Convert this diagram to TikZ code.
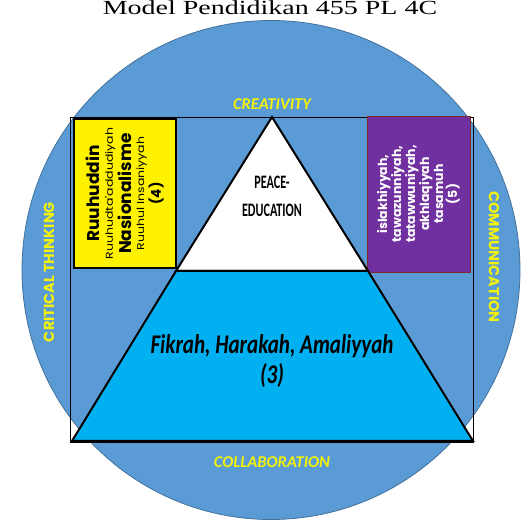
\documentclass[tikz,border=0pt]{standalone}
\usepackage{fontspec}
\setmainfont{Liberation Serif}
\newfontfamily\titlefont[FakeStretch=1.4]{Liberation Serif}
\newfontfamily\labelfont{Carlito}
\newfontfamily\narrowfont[FakeStretch=0.78]{Carlito}
\newfontfamily\tallfont[FakeStretch=0.64]{Carlito}
\newfontfamily\roundfont{Poppins}
\newfontfamily\widefont[FakeStretch=1.25]{Poppins}
\usetikzlibrary{positioning}
\definecolor{ringblue}{HTML}{5B9BD5}
\definecolor{ringedge}{HTML}{41719C}
\definecolor{basecyan}{HTML}{00B0F0}
\definecolor{boxpurple}{HTML}{7030A0}
\definecolor{boxedge}{HTML}{7F2A2A}
\definecolor{skillyellow}{HTML}{F2F20A}
\tikzstyle{ring} = [ellipse, draw=ringedge, line width=0.8pt, fill=ringblue, minimum width=498pt, minimum height=499pt, inner sep=0pt]
\tikzstyle{frame} = [draw=black, line width=0.8pt]
\tikzstyle{level} = [draw=black, line width=2pt, line join=miter]
\tikzstyle{valuebox} = [rectangle, rotate=90, align=center, inner sep=0pt, text centered]
\tikzstyle{skill} = [text=skillyellow, font=\labelfont\bfseries\itshape\fontsize{16.5}{18}\selectfont]
\tikzstyle{skillside} = [text=skillyellow, font=\roundfont\bfseries\fontsize{14.5}{16}\selectfont]
\usetikzlibrary{shapes.geometric}

\begin{document}
\begin{tikzpicture}[x=1pt, y=1pt]
\useasboundingbox (0,0) rectangle (523,520);

% title above the ring
\node (title) [anchor=base, font=\titlefont\fontsize{20}{24}\selectfont] at (270,505) {Model Pendidikan 455 PL 4C};

\node (circ) [ring] at (271,250) {};
\draw [frame] (70,78) rectangle (473,403);

\node (ruh) [valuebox, draw=black, line width=1.2pt, fill=yellow, minimum width=149pt, minimum height=102pt] at (125,326.5)
  {\roundfont\bfseries\fontsize{17}{17}\selectfont Ruuhuddin\\[1pt]
   \widefont\fontsize{10}{11}\selectfont Ruuhudta'addudiyah\\[1pt]
   \roundfont\bfseries\fontsize{17}{17}\selectfont Nasionalisme\\[1pt]
   \widefont\fontsize{10}{11}\selectfont Ruuhul Insaniyyah\\[1pt]
   \roundfont\bfseries\fontsize{13.5}{14}\selectfont (4)};
\node (akh) [valuebox, draw=boxedge, line width=0.8pt, fill=boxpurple, text=white, minimum width=156pt, minimum height=103pt,
  font=\roundfont\bfseries\fontsize{12.5}{14}\selectfont] at (418.5,326)
  {islakhiyyah,\\ tawazunniyah,\\ tatawwuniyah,\\ akhlaqiyah\\ tasamuh\\ (5)};

% peace triangle
\coordinate (apex) at (272,403);
\coordinate (tl) at (176,249);
\coordinate (tr) at (368,249);
\coordinate (bl) at (72,79);
\coordinate (br) at (473,79);
\draw [level, fill=white] (apex) -- (tr) -- (tl) -- cycle;
\draw [level, fill=basecyan] (tl) -- (tr) -- (br) -- (bl) -- cycle;

\node (peace) [align=center, font=\tallfont\bfseries\fontsize{19}{28}\selectfont] at (272,324) {PEACE-\\EDUCATION};
\node (fikrah) [align=center, font=\narrowfont\bfseries\itshape\fontsize{27}{30}\selectfont] at (272,159) {Fikrah, Harakah, Amaliyyah\\(3)};

\node (creat) [skill] at (272,416) {CREATIVITY};
\node (collab) [skill] at (272,58) {COLLABORATION};
\node (critic) [skillside, rotate=90] at (49,248) {CRITICAL THINKING};
\node (comm) [skillside, rotate=-90] at (494,263) {COMMUNICATION};

\end{tikzpicture}
\end{document}
